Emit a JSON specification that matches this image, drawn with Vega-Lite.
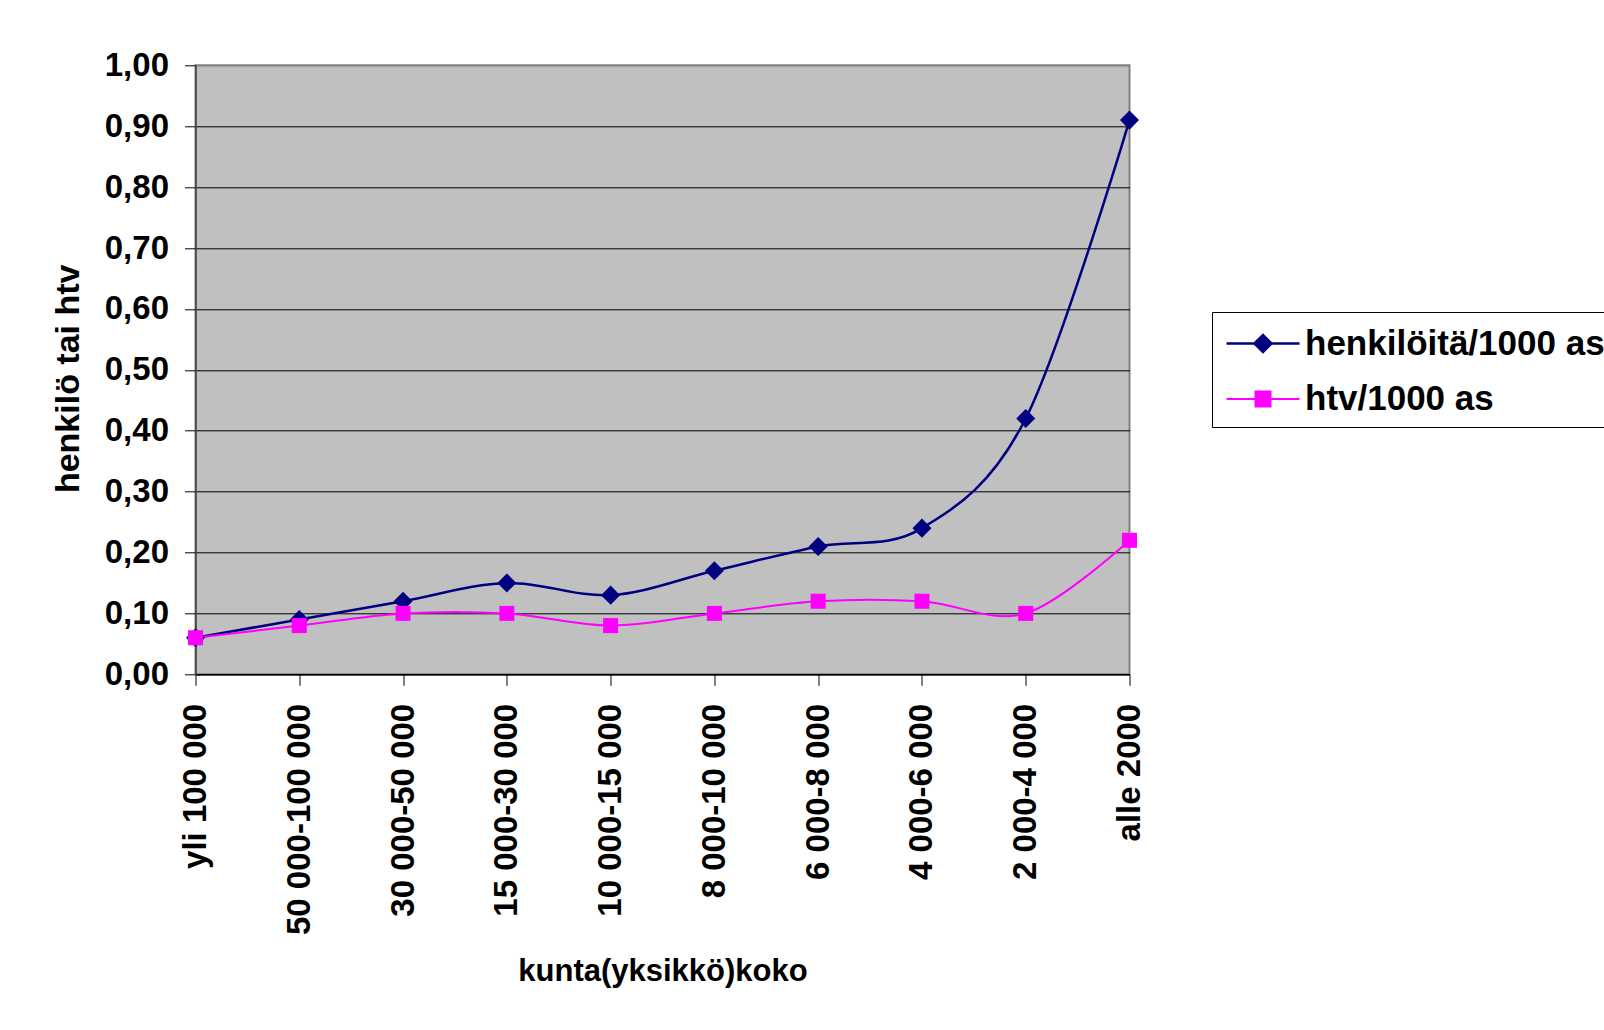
{
  "$schema": "https://vega.github.io/schema/vega-lite/v6.json",
  "autosize": {"type": "none"},
  "width": 934,
  "height": 609,
  "padding": {"left": 195.5, "top": 65.3, "right": 474.5, "bottom": 355.7},
  "background": "white",
  "config": {
    "view": {"fill": "#c0c0c0", "stroke": "#808080", "strokeWidth": 2},
    "font": "Liberation Sans"
  },
  "data": {
    "values": [
      {"koko": "yli 100 000", "sarja": "henkilöitä/1000 as", "arvo": 0.06},
      {"koko": "50 000-100 000", "sarja": "henkilöitä/1000 as", "arvo": 0.09},
      {"koko": "30 000-50 000", "sarja": "henkilöitä/1000 as", "arvo": 0.12},
      {"koko": "15 000-30 000", "sarja": "henkilöitä/1000 as", "arvo": 0.15},
      {"koko": "10 000-15 000", "sarja": "henkilöitä/1000 as", "arvo": 0.13},
      {"koko": "8 000-10 000", "sarja": "henkilöitä/1000 as", "arvo": 0.17},
      {"koko": "6 000-8 000", "sarja": "henkilöitä/1000 as", "arvo": 0.21},
      {"koko": "4 000-6 000", "sarja": "henkilöitä/1000 as", "arvo": 0.24},
      {"koko": "2 000-4 000", "sarja": "henkilöitä/1000 as", "arvo": 0.42},
      {"koko": "alle 2000", "sarja": "henkilöitä/1000 as", "arvo": 0.91},
      {"koko": "yli 100 000", "sarja": "htv/1000 as", "arvo": 0.06},
      {"koko": "50 000-100 000", "sarja": "htv/1000 as", "arvo": 0.08},
      {"koko": "30 000-50 000", "sarja": "htv/1000 as", "arvo": 0.10},
      {"koko": "15 000-30 000", "sarja": "htv/1000 as", "arvo": 0.10},
      {"koko": "10 000-15 000", "sarja": "htv/1000 as", "arvo": 0.08},
      {"koko": "8 000-10 000", "sarja": "htv/1000 as", "arvo": 0.10},
      {"koko": "6 000-8 000", "sarja": "htv/1000 as", "arvo": 0.12},
      {"koko": "4 000-6 000", "sarja": "htv/1000 as", "arvo": 0.12},
      {"koko": "2 000-4 000", "sarja": "htv/1000 as", "arvo": 0.10},
      {"koko": "alle 2000", "sarja": "htv/1000 as", "arvo": 0.22}
    ]
  },
  "encoding": {
    "x": {
      "field": "koko",
      "type": "nominal",
      "sort": null,
      "scale": {"type": "point", "padding": 0},
      "axis": {
        "title": "kunta(yksikkö)koko",
        "titleFont": "Liberation Sans",
        "titleFontSize": 31,
        "titleFontWeight": "bold",
        "titleColor": "black",
        "titleX": 467,
        "titleY": 306,
        "titleAlign": "center",
        "titleBaseline": "alphabetic",
        "labelAngle": 270,
        "labelAlign": "right",
        "labelBaseline": "middle",
        "labelFont": "Liberation Sans",
        "labelFontSize": 33,
        "labelFontWeight": "bold",
        "labelColor": "black",
        "labelPadding": 18,
        "labelLimit": 500,
        "labelOverlap": false,
        "tickSize": 11,
        "tickColor": "black",
        "tickWidth": 1,
        "domainColor": "black",
        "domainWidth": 1.5,
        "grid": false
      }
    },
    "y": {
      "field": "arvo",
      "type": "quantitative",
      "scale": {"domain": [0, 1], "nice": false},
      "axis": {
        "values": [0, 0.1, 0.2, 0.3, 0.4, 0.5, 0.6, 0.7, 0.8, 0.9, 1.0],
        "labelExpr": "replace(format(datum.value, '.2f'), '.', ',')",
        "title": "henkilö tai htv",
        "titleFont": "Liberation Sans",
        "titleFontSize": 34,
        "titleFontWeight": "bold",
        "titleColor": "black",
        "titleAngle": 270,
        "titleX": -127.5,
        "titleY": 313,
        "titleAlign": "center",
        "titleBaseline": "middle",
        "labelFont": "Liberation Sans",
        "labelFontSize": 33,
        "labelFontWeight": "bold",
        "labelColor": "black",
        "labelPadding": 16,
        "tickSize": 11,
        "tickColor": "black",
        "tickWidth": 1,
        "domainColor": "#404040",
        "domainWidth": 1.5,
        "grid": true,
        "gridColor": {"condition": {"test": "datum.value >= 1", "value": "#808080"}, "value": "black"},
        "gridWidth": 1
      }
    },
    "color": {
      "field": "sarja",
      "type": "nominal",
      "scale": {"domain": ["henkilöitä/1000 as", "htv/1000 as"], "range": ["#000080", "#ff00ff"]},
      "legend": {
        "title": null,
        "orient": "none",
        "legendX": 1016.5,
        "legendY": 246.7,
        "strokeColor": "black",
        "fillColor": "white",
        "padding": 10,
        "rowPadding": 16,
        "labelFont": "Liberation Sans",
        "labelFontSize": 35,
        "labelFontWeight": "bold",
        "labelColor": "black",
        "labelOffset": 20.5,
        "labelLimit": 600,
        "symbolSize": 1600,
        "symbolOffset": 19.5,
        "symbolStrokeWidth": 2,
        "encode": {
          "symbols": {
            "update": {
              "shape": {"signal": "datum.value === 'htv/1000 as' ? 'M-1.825,0H1.825M-0.375,-0.375H0.375V0.375H-0.375Z' : 'M-1.825,0H1.825M-0.43,0L0,-0.43L0.43,0L0,0.43Z'"},
              "fill": {"signal": "datum.value === 'htv/1000 as' ? '#ff00ff' : '#000080'"},
              "stroke": {"signal": "datum.value === 'htv/1000 as' ? '#ff00ff' : '#000080'"},
              "strokeWidth": {"value": 2},
              "opacity": {"value": 1},
              "fillOpacity": {"value": 1}
            }
          }
        }
      }
    }
  },
  "layer": [
    {
      "mark": {"type": "line", "interpolate": "cardinal", "tension": 0},
      "encoding": {
        "strokeWidth": {
          "field": "sarja",
          "type": "nominal",
          "scale": {"domain": ["henkilöitä/1000 as", "htv/1000 as"], "range": [2.5, 2]},
          "legend": null
        }
      }
    },
    {
      "transform": [{"filter": "datum.sarja === 'henkilöitä/1000 as'"}],
      "mark": {"type": "point", "filled": true, "opacity": 1, "size": 225, "shape": "M0,-1.27L1.27,0L0,1.27L-1.27,0Z"}
    },
    {
      "transform": [{"filter": "datum.sarja === 'htv/1000 as'"}],
      "mark": {"type": "point", "filled": true, "opacity": 1, "size": 225, "shape": "square"}
    }
  ]
}
